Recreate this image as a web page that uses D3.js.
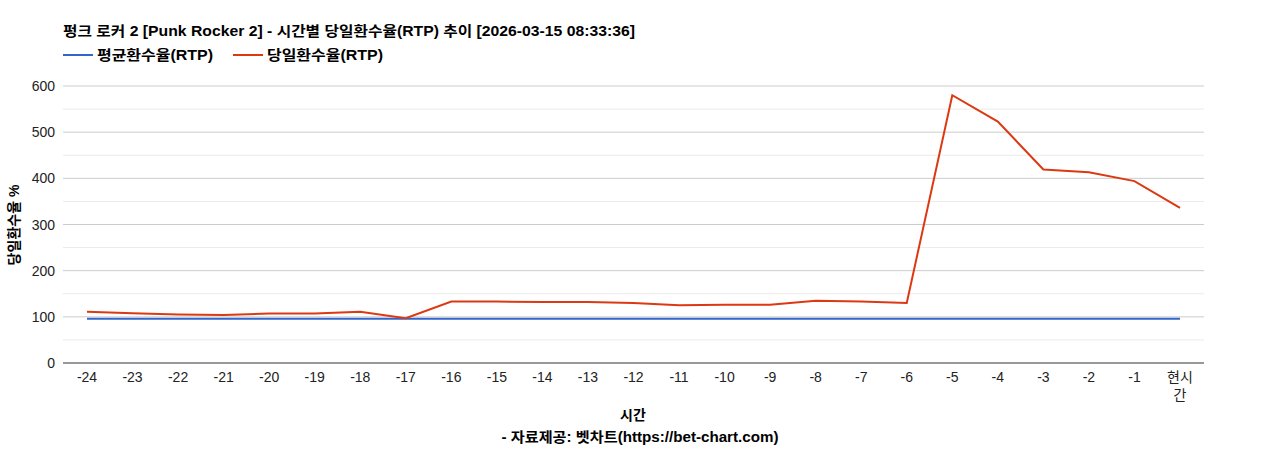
<!DOCTYPE html>
<html><head><meta charset="utf-8">
<script src="https://cdn.jsdelivr.net/npm/d3@7"></script>
<style>body{margin:0;background:#fff;font-family:"Liberation Sans","Noto Sans CJK KR",sans-serif}</style>
</head><body><svg id="c" width="1268" height="450"></svg>
<script>
const hours = ['-24','-23','-22','-21','-20','-19','-18','-17','-16','-15','-14','-13','-12','-11','-10','-9','-8','-7','-6','-5','-4','-3','-2','-1','현시간'];
const avgRtp = [96,96,96,96,96,96,96,96,96,96,96,96,96,96,96,96,96,96,96,96,96,96,96,96,96];
const dayRtp = [111,108,105,104,107,107,111,97,133,133,132,132,130,125,126,126,135,133,130,580,523,419,413,394,336];
const yTicks = [0,100,200,300,400,500,600];

const svg = d3.select('#c');
const m = {l:63, r:1204, t:86, b:363};
const x = d3.scalePoint().domain(hours).range([87,1180]);
const y = d3.scaleLinear().domain([0,600]).range([m.b,m.t]);

// minor + major grid
d3.range(50,600,100).forEach(v => svg.append('line').attr('x1',m.l).attr('x2',m.r)
  .attr('y1',y(v)).attr('y2',y(v)).attr('stroke','#ebebeb'));
yTicks.slice(1).forEach(v => svg.append('line').attr('x1',m.l).attr('x2',m.r)
  .attr('y1',y(v)).attr('y2',y(v)).attr('stroke','#cccccc'));
svg.append('line').attr('x1',m.l).attr('x2',m.r).attr('y1',m.b).attr('y2',m.b).attr('stroke','#333');

svg.selectAll('.yt').data(yTicks).enter().append('text')
  .attr('x',m.l-8).attr('y',d=>y(d)+5).attr('text-anchor','end')
  .attr('font-size',14).attr('fill','#222').text(d=>d);

hours.forEach(h => {
  const t = svg.append('text').attr('x',x(h)).attr('y',382).attr('text-anchor','middle')
    .attr('font-size',14).attr('fill','#222');
  if (h === '현시간') {
    t.append('tspan').attr('x',x(h)).text('현시');
    t.append('tspan').attr('x',x(h)).attr('dy',18).text('간');
  } else t.text(h);
});

const line = d3.line().x((d,i)=>x(hours[i])).y(d=>y(d));
svg.append('path').datum(avgRtp).attr('d',line).attr('fill','none').attr('stroke','#3366cc').attr('stroke-width',2);
svg.append('path').datum(dayRtp).attr('d',line).attr('fill','none').attr('stroke','#dc3912').attr('stroke-width',2);

svg.append('text').attr('x',63).attr('y',36).attr('font-size',14).attr('font-weight','bold')
  .attr('textLength',572).attr('lengthAdjust','spacingAndGlyphs')
  .text('펑크 로커 2 [Punk Rocker 2] - 시간별 당일환수율(RTP) 추이 [2026-03-15 08:33:36]');

const legend = [['평균환수율(RTP)','#3366cc',63],['당일환수율(RTP)','#dc3912',233]];
legend.forEach(([name,col,lx]) => {
  svg.append('line').attr('x1',lx).attr('x2',lx+30).attr('y1',55).attr('y2',55).attr('stroke',col).attr('stroke-width',2);
  svg.append('text').attr('x',lx+34).attr('y',60).attr('font-size',14).attr('font-weight','bold')
    .attr('textLength',116).attr('lengthAdjust','spacingAndGlyphs').text(name);
});

svg.append('text').attr('transform','translate(19,225) rotate(-90)').attr('text-anchor','middle')
  .attr('font-size',14).attr('font-weight','bold').text('당일환수율 %');
svg.append('text').attr('x',633).attr('y',420).attr('text-anchor','middle').attr('font-size',14).attr('font-weight','bold').text('시간');
svg.append('text').attr('x',640).attr('y',442).attr('text-anchor','middle').attr('font-size',14).attr('font-weight','bold')
  .attr('textLength',277).attr('lengthAdjust','spacingAndGlyphs').text('- 자료제공: 벳차트(https://bet-chart.com)');
</script></body></html>
